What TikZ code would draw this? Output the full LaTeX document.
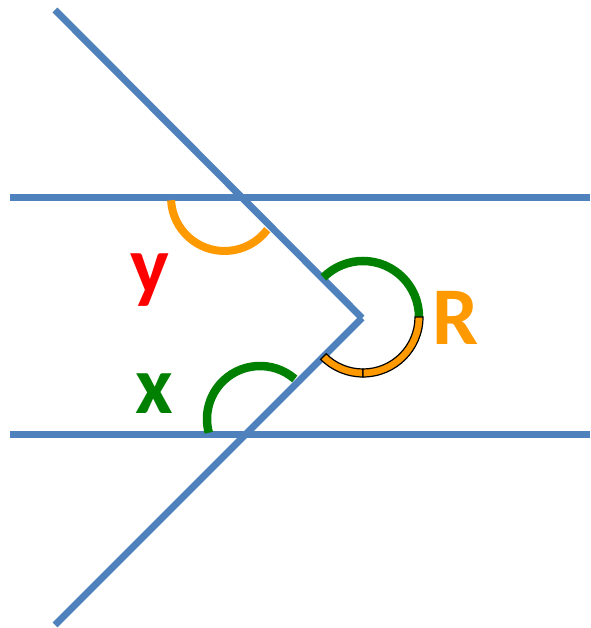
\documentclass[tikz,border=0pt]{standalone}
\usepackage{fontspec}
\setmainfont{Carlito}
\definecolor{lblue}{RGB}{79,129,189}
\definecolor{aorange}{RGB}{255,153,0}
\definecolor{agreen}{RGB}{0,128,0}
\definecolor{ared}{RGB}{255,0,0}
\begin{document}
\begin{tikzpicture}[x=1pt,y=1pt,
  bline/.style={lblue,line width=7pt},
  garc/.style={agreen,line width=8.5pt},
  oarc/.style={aorange,line width=8pt},
  osec/.style={fill=aorange,draw=black,line width=1.2pt},
  lab/.style={font=\fontsize{82}{98}\selectfont\bfseries,anchor=base,inner sep=0pt}]
\useasboundingbox (0,0) rectangle (590,628);
\coordinate (T) at (55,618);
\coordinate (V) at (362,310);
\coordinate (B) at (55,3);
\coordinate (L1a) at (10,430);
\coordinate (L1b) at (590,430);
\coordinate (L2a) at (10,193);
\coordinate (L2b) at (590,193);
\coordinate (CY) at (224.5,430.5);
\coordinate (CX) at (260,209);
\coordinate (CR) at (363,311);
\draw[bline] (L1a) -- (L1b);
\draw[bline] (L2a) -- (L2b);
\draw[bline] (T) -- (V);
\draw[bline] (V) -- (B);
% angle y
\draw[oarc] ([shift={(183:53.5)}]CY) arc[start angle=183,end angle=323,radius=53.5];
% angle x
\draw[garc] ([shift={(49:53)}]CX) arc[start angle=49,end angle=195,radius=53];
% angle R
\draw[garc] ([shift={(0:56)}]CR) arc[start angle=0,end angle=135,radius=56];
\filldraw[osec] ([shift={(225:60)}]CR) arc[start angle=225,end angle=270,radius=60]
  -- ([shift={(270:52)}]CR) arc[start angle=270,end angle=225,radius=52] -- cycle;
\filldraw[osec] ([shift={(270:60)}]CR) arc[start angle=270,end angle=360,radius=60]
  -- ([shift={(360:52)}]CR) arc[start angle=360,end angle=270,radius=52] -- cycle;
\node[lab,text=ared] (ly) at (150,334) {y};
\node[lab,text=agreen] (lx) at (154,214) {x};
\node[lab,text=aorange] (lr) at (456,283) {R};
\end{tikzpicture}
\end{document}
